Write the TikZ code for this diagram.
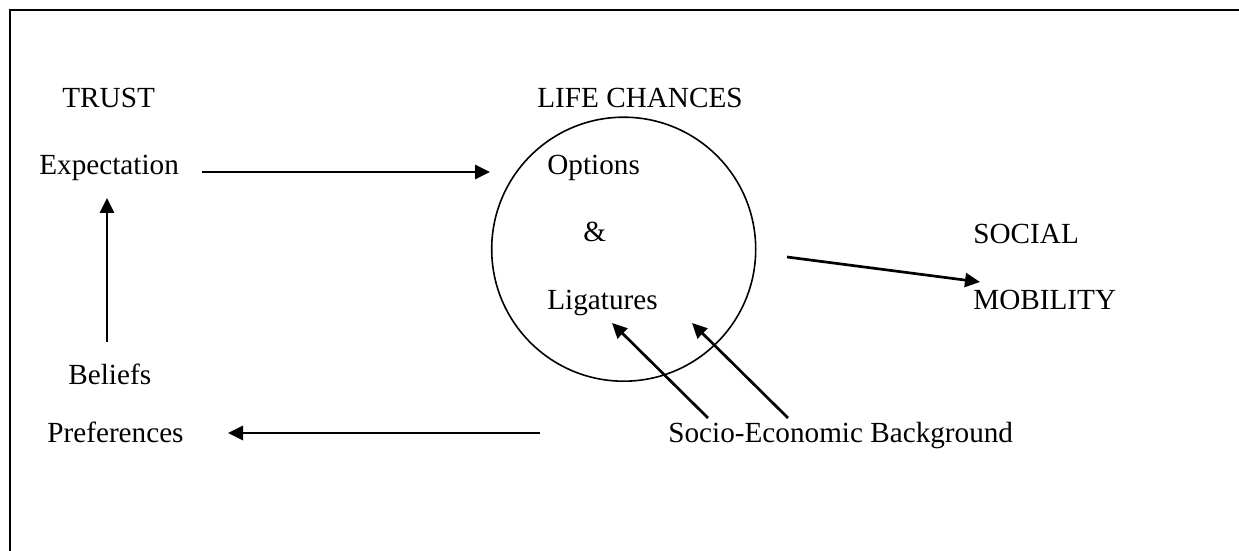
\documentclass[tikz,border=0pt]{standalone}
\usepackage{fontspec}
\setmainfont{Liberation Serif}
\usetikzlibrary{arrows.meta}
\begin{document}
\begin{tikzpicture}[x=0.5pt,y=-0.5pt,
  lbl/.style={anchor=base west,inner sep=0pt,font=\fontsize{14.6}{17}\selectfont},
  arr/.style={line width=1.35pt,-{Triangle[length=7.5pt,width=7pt]}},
  frame/.style={line width=1.3pt},
  ring/.style={line width=0.8pt}]
\useasboundingbox (0,0) rectangle (1239,551);
\clip (0,0) rectangle (1239,551);
\draw[frame] (10,10) rectangle (1260,580);
% texts
\node[lbl] (trust) at (62,108) {TRUST};
\node[lbl] (expect) at (39,175) {Expectation};
\node[lbl] (beliefs) at (68,385) {Beliefs};
\node[lbl] (pref) at (47,443) {Preferences};
\node[lbl] (life) at (537,108) {LIFE CHANCES};
\node[lbl] (options) at (547,175) {Options};
\node[lbl] (amp) at (583,242) {\&};
\node[lbl] (lig) at (547,310) {Ligatures};
\node[lbl] (social) at (973,243) {SOCIAL};
\node[lbl] (mob) at (973,310) {MOBILITY};
\node[lbl] (seb) at (668,443) {Socio-Economic Background};
% circle
\node[draw,ring,circle,minimum size=132pt,inner sep=0pt] (lc) at (623.7,249.2) {};
% arrow end points
\coordinate (e1) at (202,172);
\coordinate (e2) at (490,172);
\coordinate (b1) at (107,342);
\coordinate (b2) at (107,198);
\coordinate (p1) at (540,433);
\coordinate (p2) at (228,433);
\coordinate (m1) at (787,257);
\coordinate (m2) at (980,282);
\coordinate (s1) at (708,418);
\coordinate (s2) at (612,323);
\coordinate (s3) at (788,418);
\coordinate (s4) at (692,323);
\draw[arr] (e1) -- (e2);
\draw[arr] (b1) -- (b2);
\draw[arr] (p1) -- (p2);
\draw[arr] (m1) -- (m2);
\draw[arr] (s1) -- (s2);
\draw[arr] (s3) -- (s4);
\end{tikzpicture}
\end{document}
